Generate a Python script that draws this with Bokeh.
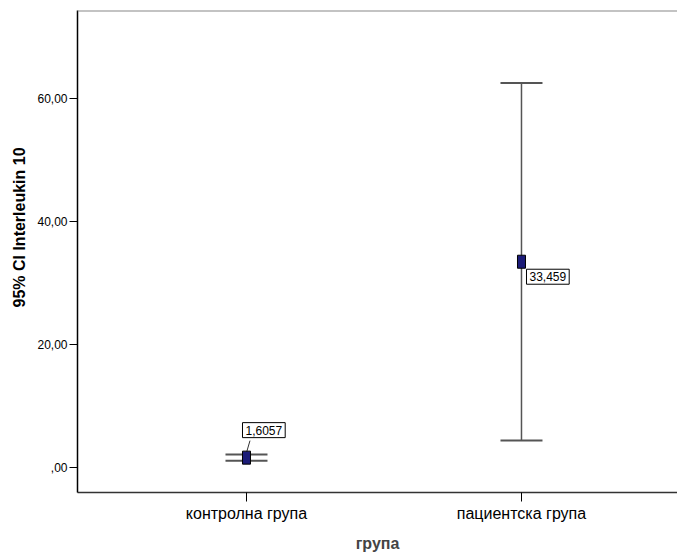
import math
from bokeh.plotting import figure
from bokeh.models import (ColumnDataSource, Whisker, TeeHead, Label, FixedTicker,
                          Range1d, Span, Title)
from bokeh.embed import file_html
from bokeh.resources import INLINE

# ---- data ----
groups = ["контролна група", "пациентска група"]
group_pos = [1, 2]
means = [1.6057, 33.459]
ci_lower = [1.10, 4.38]
ci_upper = [2.11, 62.54]
mean_labels = ["1,6057", "33,459"]
y_ticks = [0, 20, 40, 60]
y_tick_labels = [",00", "20,00", "40,00", "60,00"]
x_title = "група"
y_title = "95% CI Interleukin 10"

# ---- layout ----
FRAME_W, FRAME_H = 600, 482
X0, X1 = 0.3855, 0.3855 + FRAME_W / 275.0
Y0, Y1 = -4.065, 74.31
px_per_y = FRAME_H / (Y1 - Y0)
px_per_x = FRAME_W / (X1 - X0)
FONT = "Liberation Sans"

p = figure(frame_width=FRAME_W, frame_height=FRAME_H,
           x_range=Range1d(X0, X1), y_range=Range1d(Y0, Y1),
           output_backend="svg", toolbar_location=None,
           min_border_left=77, min_border_right=0, min_border_top=10,
           min_border_bottom=50)
p.outline_line_color = None
p.grid.visible = False
p.background_fill_color = "white"
p.border_fill_color = "white"

# axes
p.xaxis.ticker = FixedTicker(ticks=group_pos)
p.xaxis.major_label_overrides = {g: lab for g, lab in zip(group_pos, groups)}
p.yaxis.ticker = FixedTicker(ticks=y_ticks)
p.yaxis.major_label_overrides = {t: lab for t, lab in zip(y_ticks, y_tick_labels)}
for ax in (p.xaxis, p.yaxis):
    ax.axis_line_color = "#000000"
    ax.axis_line_width = 1.5
    ax.major_tick_line_color = "#000000"
    ax.major_tick_in = 0
    ax.minor_tick_line_color = None
    ax.major_label_text_font = FONT
    ax.major_label_text_color = "#000000"
p.xaxis.axis_line_color = "#333333"
p.xaxis.major_tick_out = 9
p.xaxis.major_label_text_font_size = "16px"
p.xaxis.major_label_standoff = 3
p.yaxis.major_tick_out = 8
p.yaxis.major_label_text_font_size = "12px"
p.yaxis.major_label_standoff = 2

p.xaxis.axis_label = x_title
p.xaxis.axis_label_text_font = FONT
p.xaxis.axis_label_text_font_style = "bold"
p.xaxis.axis_label_text_font_size = "16px"
p.xaxis.axis_label_standoff = 10

# top border line
p.add_layout(Span(location=Y1, dimension="width", line_color="#888888", line_width=2))

# y axis title, shifted along the axis like the original
p.add_layout(Title(text=y_title, align="left", offset=185,
                   text_font=FONT, text_font_style="bold", text_font_size="16px",
                   text_color="#000000", standoff=14), "left")

src = ColumnDataSource(dict(x=group_pos, m=means, lo=ci_lower, hi=ci_upper,
                            lab=mean_labels))

# error bars
p.add_layout(Whisker(source=src, base="x", lower="lo", upper="hi",
                     line_color="#555555", line_width=1.5,
                     upper_head=TeeHead(size=42, line_color="#555555", line_width=2),
                     lower_head=TeeHead(size=42, line_color="#555555", line_width=2)))

# connector for control label
p.segment(x0=[group_pos[0] + 3.5 / px_per_x], y0=[means[0] + 17 / px_per_y],
          x1=[group_pos[0]], y1=[means[0] + 5 / px_per_y],
          line_color="#333333", line_width=1)

# mean markers
p.rect(x="x", y="m", width=8, height=13, width_units="screen", height_units="screen",
       fill_color="#1c1c78", line_color="#000000", line_width=1, source=src)

# mean labels
offsets = [(-4, 35), (5, -7.5)]
for gx, m, lab, (dx, dy) in zip(group_pos, means, mean_labels, offsets):
    p.add_layout(Label(x=gx, y=m, x_offset=dx, y_offset=dy, text=lab,
                       text_align="left", text_baseline="top",
                       text_font=FONT, text_font_size="12px", text_color="#000000",
                       background_fill_color="white", border_line_color="#000000",
                       border_line_width=1, padding=3))

open("out.html", "w").write(file_html(p, INLINE))
